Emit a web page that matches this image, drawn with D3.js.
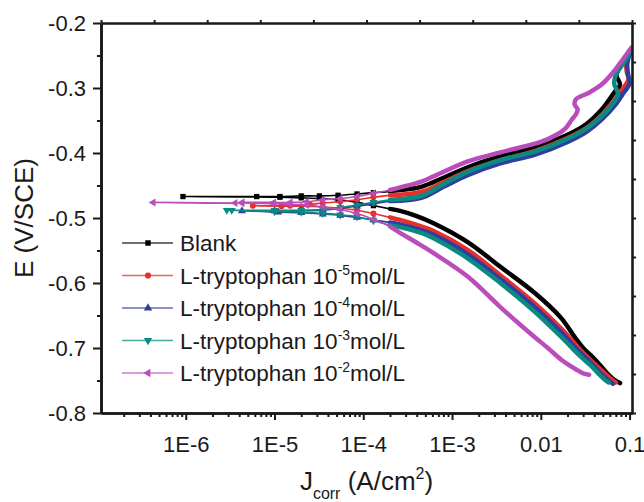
<!DOCTYPE html>
<html>
<head>
<meta charset="utf-8">
<script src="https://cdn.jsdelivr.net/npm/d3@7"></script>
<style>
  body { margin: 0; background: #fff; }
  text { font-family: "Liberation Sans", Arial, sans-serif; fill: #1a1a1a; }
</style>
</head>
<body>
<svg id="chart" width="644" height="502"></svg>
<script>
// each curve: [J (A/cm2), E (V/SCE)], in scan order cathodic -> Ecorr -> anodic
const blank = [
  [0.078, -0.754], [0.066, -0.748], [0.057, -0.740], [0.041, -0.718], [0.030, -0.700],
  [0.024, -0.683], [0.017, -0.654], [0.0085, -0.615], [0.0035, -0.575], [0.0015, -0.537],
  [6.2e-4, -0.508], [4.0e-4, -0.497], [2.6e-4, -0.489], [2.0e-4, -0.486],
  [1.3e-4, -0.481], [8.5e-5, -0.476], [5.2e-5, -0.472], [3.2e-5, -0.470], [2.0e-5, -0.469],
  [1.15e-5, -0.468], [9.3e-7, -0.467],
  [6.3e-6, -0.467], [1.15e-5, -0.467], [2.0e-5, -0.466], [3.2e-5, -0.466], [5.2e-5, -0.465],
  [8.5e-5, -0.463], [1.3e-4, -0.461],
  [2.0e-4, -0.459], [2.6e-4, -0.457], [4.5e-4, -0.452], [8.0e-4, -0.438], [1.5e-3, -0.422],
  [3.5e-3, -0.405], [8.5e-3, -0.391], [0.02, -0.372], [0.033, -0.355], [0.048, -0.334],
  [0.068, -0.306], [0.078, -0.295], [0.071, -0.280], [0.081, -0.265], [0.094, -0.253], [0.105, -0.243]
];
const trp5 = [
  [0.070, -0.753], [0.060, -0.746], [0.048, -0.734], [0.036, -0.718], [0.028, -0.703],
  [0.017, -0.670], [0.0085, -0.631], [0.0035, -0.588], [0.0015, -0.549], [6.2e-4, -0.520],
  [4.5e-4, -0.513], [2.6e-4, -0.503], [2.0e-4, -0.499],
  [1.3e-4, -0.493], [8.5e-5, -0.488], [5.5e-5, -0.485], [3.5e-5, -0.483], [2.0e-5, -0.482],
  [1.2e-5, -0.482], [5.7e-6, -0.481],
  [1.5e-5, -0.481], [2.5e-5, -0.479], [3.5e-5, -0.477], [5.5e-5, -0.475], [8.5e-5, -0.472],
  [1.3e-4, -0.468],
  [2.0e-4, -0.465], [4.5e-4, -0.460], [8.0e-4, -0.445], [1.5e-3, -0.428], [3.5e-3, -0.411],
  [8.5e-3, -0.397], [0.02, -0.377], [0.033, -0.361], [0.048, -0.342], [0.068, -0.318],
  [0.085, -0.300], [0.097, -0.287], [0.093, -0.275], [0.092, -0.263], [0.100, -0.248]
];
const trp4 = [
  [0.065, -0.755], [0.056, -0.748], [0.048, -0.740], [0.036, -0.722], [0.028, -0.708],
  [0.017, -0.676], [0.0085, -0.637], [0.0035, -0.594], [0.0015, -0.556], [6.2e-4, -0.526],
  [4.5e-4, -0.519], [2.6e-4, -0.510], [2.0e-4, -0.507],
  [1.3e-4, -0.503], [8.5e-5, -0.499], [5.5e-5, -0.496], [3.5e-5, -0.494], [2.0e-5, -0.492],
  [1.1e-5, -0.491], [4.3e-6, -0.489],
  [1.0e-5, -0.489], [2.0e-5, -0.489], [3.5e-5, -0.488], [5.5e-5, -0.485], [8.5e-5, -0.482],
  [1.3e-4, -0.478],
  [2.0e-4, -0.474], [4.5e-4, -0.469], [8.0e-4, -0.452], [1.5e-3, -0.434], [3.5e-3, -0.416],
  [8.5e-3, -0.403], [0.02, -0.383], [0.033, -0.367], [0.048, -0.349], [0.068, -0.327],
  [0.085, -0.308], [0.100, -0.293], [0.096, -0.278], [0.094, -0.264], [0.100, -0.248]
];
const trp3 = [
  [0.058, -0.753], [0.052, -0.748], [0.045, -0.740], [0.036, -0.726], [0.028, -0.713],
  [0.017, -0.683], [0.0085, -0.644], [0.0035, -0.600], [0.0015, -0.562], [6.2e-4, -0.531],
  [4.5e-4, -0.523], [2.6e-4, -0.514], [2.0e-4, -0.511],
  [1.3e-4, -0.504], [8.5e-5, -0.498], [5.5e-5, -0.495], [3.5e-5, -0.493], [2.0e-5, -0.491],
  [1.0e-5, -0.490], [2.9e-6, -0.488],
  [3.3e-6, -0.488], [1.0e-5, -0.488], [2.0e-5, -0.488], [3.5e-5, -0.487], [5.5e-5, -0.484],
  [8.5e-5, -0.480], [1.3e-4, -0.476],
  [2.0e-4, -0.472], [4.5e-4, -0.466], [8.0e-4, -0.448], [1.5e-3, -0.429], [3.5e-3, -0.411],
  [8.5e-3, -0.398], [0.02, -0.378], [0.033, -0.362], [0.048, -0.344], [0.062, -0.327],
  [0.074, -0.310], [0.067, -0.293], [0.071, -0.278], [0.085, -0.262], [0.105, -0.243]
];
const trp2 = [
  [0.035, -0.741], [0.030, -0.739], [0.025, -0.733], [0.017, -0.718], [0.012, -0.700],
  [0.0085, -0.683], [0.0035, -0.637], [0.0015, -0.590], [6.2e-4, -0.554], [4.0e-4, -0.538],
  [2.6e-4, -0.523], [2.0e-4, -0.513],
  [1.3e-4, -0.502], [8.5e-5, -0.493], [5.5e-5, -0.487], [3.5e-5, -0.483], [2.3e-5, -0.480],
  [1.5e-5, -0.479], [9.8e-6, -0.478], [4.3e-6, -0.477], [4.3e-7, -0.476],
  [3.6e-6, -0.477], [4.3e-6, -0.476], [9.8e-6, -0.476], [1.5e-5, -0.476], [2.3e-5, -0.475],
  [3.5e-5, -0.472], [5.5e-5, -0.470], [8.5e-5, -0.467], [1.3e-4, -0.462],
  [2.0e-4, -0.457], [2.6e-4, -0.453], [4.5e-4, -0.444], [6.2e-4, -0.436], [1.5e-3, -0.413],
  [3.5e-3, -0.399], [0.01, -0.383], [0.015, -0.372], [0.019, -0.362], [0.022, -0.350],
  [0.025, -0.340], [0.026, -0.333], [0.024, -0.325], [0.025, -0.317], [0.034, -0.308],
  [0.048, -0.295], [0.068, -0.273], [0.085, -0.255], [0.105, -0.238]
];

const seriesData = [blank, trp5, trp4, trp3, trp2];
const seriesColors = ["#000000", "#e8302a", "#2f3d9e", "#0b8a80", "#bb4dbb"];
const seriesSymbols = ["square", "circle", "up", "down", "left"];
const legendMain = ["Blank", "L-tryptophan 10", "L-tryptophan 10", "L-tryptophan 10", "L-tryptophan 10"];
const legendSup = ["", "-5", "-4", "-3", "-2"];
const legendTail = ["", "mol/L", "mol/L", "mol/L", "mol/L"];

const yTicks = [-0.8, -0.7, -0.6, -0.5, -0.4, -0.3, -0.2];
const yTickLabels = ["-0.8", "-0.7", "-0.6", "-0.5", "-0.4", "-0.3", "-0.2"];
const xTicks = [1e-6, 1e-5, 1e-4, 1e-3, 1e-2, 1e-1];
const xTickLabels = ["1E-6", "1E-5", "1E-4", "1E-3", "0.01", "0.1"];

const thinBelow = 1.9e-4; // near Ecorr the points are sparse: thin line + markers

const margin = { left: 101, right: 632, top: 23, bottom: 413 };
const svg = d3.select("#chart");

const x = d3.scaleLog().domain([1.11e-7, 0.1065]).range([margin.left, margin.right]);
const y = d3.scaleLinear().domain([-0.8, -0.2]).range([margin.bottom, margin.top]);

svg.append("defs").append("clipPath").attr("id", "plot")
  .append("rect")
  .attr("x", margin.left).attr("y", margin.top)
  .attr("width", margin.right - margin.left)
  .attr("height", margin.bottom - margin.top);

function symbolPath(kind, size) {
  const tri = d3.symbol().type(d3.symbolTriangle).size(size)();
  if (kind === "square") return { d: d3.symbol().type(d3.symbolSquare).size(size)(), rot: 0 };
  if (kind === "circle") return { d: d3.symbol().type(d3.symbolCircle).size(size)(), rot: 0 };
  if (kind === "up") return { d: tri, rot: 0 };
  if (kind === "down") return { d: tri, rot: 180 };
  return { d: tri, rot: -90 };
}

const line = d3.line()
  .x(d => x(d[0]))
  .y(d => y(d[1]))
  .curve(d3.curveCatmullRom.alpha(0.5));

function thickRuns(data) {
  const runs = [];
  let cur = [];
  data.forEach(d => {
    if (d[0] >= thinBelow) cur.push(d);
    else {
      if (cur.length > 1) runs.push(cur);
      cur = [];
    }
  });
  if (cur.length > 1) runs.push(cur);
  return runs;
}

const curves = svg.append("g").attr("clip-path", "url(#plot)");

seriesData.forEach((data, i) => {
  const g = curves.append("g");
  const color = seriesColors[i];

  g.append("path")
    .attr("d", line(data))
    .attr("fill", "none")
    .attr("stroke", color)
    .attr("stroke-width", 1.6);

  thickRuns(data).forEach(run => {
    g.append("path")
      .attr("d", line(run))
      .attr("fill", "none")
      .attr("stroke", color)
      .attr("stroke-width", 4.5)
      .attr("stroke-linejoin", "round")
      .attr("stroke-linecap", "round");
  });

  const sym = symbolPath(seriesSymbols[i], 28);
  g.selectAll("path.mk")
    .data(data.filter(d => d[0] < thinBelow))
    .enter()
    .append("path")
    .attr("class", "mk")
    .attr("d", sym.d)
    .attr("fill", color)
    .attr("transform", d => "translate(" + x(d[0]) + "," + y(d[1]) + ") rotate(" + sym.rot + ")");
});

// axes
const axisColor = "#1a1a1a";

svg.append("g")
  .attr("transform", "translate(" + margin.left + ",0)")
  .call(d3.axisLeft(y).tickValues(yTicks).tickSize(8).tickSizeOuter(0)
    .tickPadding(7).tickFormat((d, i) => yTickLabels[i]));
svg.append("g")
  .attr("transform", "translate(" + margin.left + ",0)")
  .call(d3.axisLeft(y).tickValues(d3.range(-0.75, -0.2, 0.1)).tickSize(4).tickSizeOuter(0).tickFormat(""));

const xMinor = [];
for (let e = -7; e <= -1; e++) {
  for (let k = 2; k <= 9; k++) {
    const v = k * Math.pow(10, e);
    if (v > x.domain()[0] && v < x.domain()[1]) xMinor.push(v);
  }
}
svg.append("g")
  .attr("transform", "translate(0," + margin.bottom + ")")
  .call(d3.axisBottom(x).tickValues(xTicks).tickSize(7).tickSizeOuter(0)
    .tickPadding(16).tickFormat((d, i) => xTickLabels[i]));
svg.append("g")
  .attr("transform", "translate(0," + margin.bottom + ")")
  .call(d3.axisBottom(x).tickValues(xMinor).tickSize(4).tickSizeOuter(0).tickFormat(""));

// top and right frame with plain divisions
const topScale = d3.scaleLinear().domain([0, 1]).range([margin.left, margin.right]);
const rightScale = d3.scaleLinear().domain([0, 1]).range([margin.bottom, margin.top]);
svg.append("g")
  .attr("transform", "translate(0," + margin.top + ")")
  .call(d3.axisTop(topScale).ticks(10).tickSize(3).tickSizeOuter(0).tickFormat(""));
svg.append("g")
  .attr("transform", "translate(" + margin.right + ",0)")
  .call(d3.axisRight(rightScale).ticks(10).tickSize(4).tickSizeOuter(0).tickFormat(""));

svg.selectAll(".domain").attr("stroke", axisColor).attr("stroke-width", 2.6);
svg.selectAll(".tick line").attr("stroke", axisColor).attr("stroke-width", 2);
svg.selectAll(".tick text")
  .style("font-family", "'Liberation Sans', Arial, sans-serif")
  .style("font-size", "22px")
  .attr("fill", axisColor);

// axis titles
svg.append("text")
  .attr("transform", "translate(33," + ((margin.top + margin.bottom) / 2) + ") rotate(-90)")
  .attr("text-anchor", "middle")
  .style("font-size", "26px")
  .text("E (V/SCE)");

const xt = svg.append("text")
  .attr("x", (margin.left + margin.right) / 2)
  .attr("y", 490)
  .attr("text-anchor", "middle")
  .style("font-size", "26px");
xt.append("tspan").text("J");
xt.append("tspan").attr("dy", 9).style("font-size", "16px").text("corr");
xt.append("tspan").attr("dy", -9).text(" (A/cm");
xt.append("tspan").attr("dy", -11).style("font-size", "16px").text("2");
xt.append("tspan").attr("dy", 11).text(")");

// legend
const legendY = [243, 275.5, 308, 340.5, 373];
const legend = svg.append("g");
seriesColors.forEach((color, i) => {
  const ly = legendY[i];
  legend.append("line")
    .attr("x1", 122).attr("x2", 173)
    .attr("y1", ly).attr("y2", ly)
    .attr("stroke", color)
    .attr("stroke-opacity", 0.75)
    .attr("stroke-width", 1.5);
  const sym = symbolPath(seriesSymbols[i], 30);
  legend.append("path")
    .attr("d", sym.d)
    .attr("fill", color)
    .attr("transform", "translate(148," + ly + ") rotate(" + sym.rot + ")");
  const t = legend.append("text")
    .attr("x", 180)
    .attr("y", ly + 8)
    .style("font-size", "22.5px");
  t.append("tspan").text(legendMain[i]);
  if (legendSup[i]) {
    t.append("tspan").attr("dy", -9).style("font-size", "14px").text(legendSup[i]);
    t.append("tspan").attr("dy", 9).text(legendTail[i]);
  }
});
</script>
</body>
</html>
